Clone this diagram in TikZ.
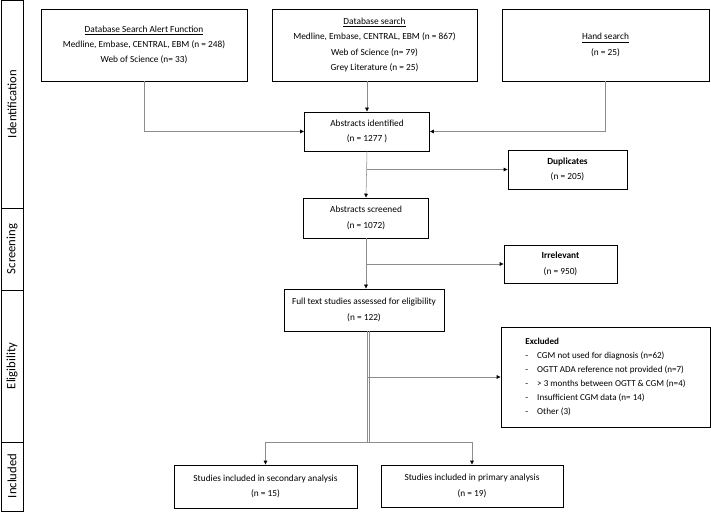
\documentclass[tikz,border=0pt]{standalone}
\usepackage{fontspec}
\setmainfont{Carlito}
\usetikzlibrary{positioning,arrows.meta}
\tikzset{
  box/.style={draw=black,thin,fill=white,align=center,inner sep=1pt,font=\fontsize{7}{11.5}\selectfont},
  link/.style={draw=black!45,thin},
  arr/.style={link,-{Latex[black,length=3pt,width=3pt]}},
  stage/.style={rotate=90,font=\fontsize{9.5}{10}\selectfont}
}
\begin{document}
\begin{tikzpicture}[x=0.75pt,y=-0.75pt]
  \useasboundingbox (0,0) rectangle (711,513);
  % stage strip on the left
  \draw[black] (1,0) rectangle (23,511);
  \foreach \ysep in {208,290,442} {\draw[black] (1,\ysep) -- (23,\ysep);}
  \node[stage] (sid) at (12,104) {Identification};
  \node[stage] (sscr) at (12,249) {Screening};
  \node[stage] (selig) at (12,366) {Eligibility};
  \node[stage] (sincl) at (12,476) {Included};
  % boxes
  \node[box,minimum width=154.5pt,minimum height=54pt] (alert) at (144,45) {\underline{Database Search Alert Function}\\Medline, Embase, CENTRAL, EBM (n = 248)\\Web of Science (n= 33)};
  \node[box,minimum width=153.75pt,minimum height=54pt] (dbase) at (374.5,45) {\underline{Database search}\\Medline, Embase, CENTRAL, EBM (n = 867)\\Web of Science (n= 79)\\Grey Literature (n = 25)};
  \node[box,minimum width=155.25pt,minimum height=54pt] (hand) at (605.5,45) {\underline{Hand search}\\(n = 25)};
  \node[box,minimum width=93.75pt,minimum height=29.25pt] (ident) at (367,131.5) {Abstracts identified\\(n = 1277 )};
  \node[box,minimum width=89.25pt,minimum height=29.25pt] (dupl) at (567.5,169.5) {\textbf{Duplicates}\\(n = 205)};
  \node[box,minimum width=93.75pt,minimum height=30pt] (screen) at (366,218) {Abstracts screened\\(n = 1072)};
  \node[box,minimum width=84.75pt,minimum height=28.5pt] (irrel) at (560.5,264) {\textbf{Irrelevant}\\(n = 950)};
  \node[box,minimum width=120pt,minimum height=31.5pt] (full) at (364,310) {Full text studies assessed for eligibility\\(n = 122)};
  \node[box,minimum width=156.75pt,minimum height=75pt,align=left,inner sep=4pt,font=\fontsize{6.8}{10.5}\selectfont] (excl) at (605.5,377) {\textbf{Excluded}\\-\quad CGM not used for diagnosis (n=62)\\-\quad OGTT ADA reference not provided (n=7)\\-\quad {>} 3 months between OGTT \& CGM (n=4)\\-\quad Insufficient CGM data (n= 14)\\-\quad Other (3)};
  \node[box,minimum width=137.25pt,minimum height=32.25pt] (second) at (265.5,486.5) {Studies included in secondary analysis\\(n = 15)};
  \node[box,minimum width=136.5pt,minimum height=31.5pt] (prim) at (472,486) {Studies included in primary analysis\\(n = 19)};
  % connectors
  \draw[arr] (alert.south) |- (ident.west);
  \draw[arr] (hand.south) |- (ident.east);
  \draw[arr] (dbase.south -| ident.north) -- (ident.north);
  \draw[arr] (ident.south) -- (screen.north);
  \draw[arr] (ident.south |- dupl.west) -- (dupl.west);
  \draw[arr] (screen.south) -- (screen.south |- full.north);
  \draw[arr] (screen.south |- irrel.west) -- (irrel.west);
  \coordinate (split) at (368,442);
  \draw[link] ([xshift=1.1pt]full.south -| split) -- ([xshift=1.1pt]split);
  \draw[link] ([xshift=-0.4pt]full.south -| split) -- ([xshift=-0.4pt]split);
  \draw[arr] (split |- excl.west) -- (excl.west);
  \draw[arr] (split) -| (second.north);
  \draw[arr] (split) -| (prim.north);
\end{tikzpicture}
\end{document}
